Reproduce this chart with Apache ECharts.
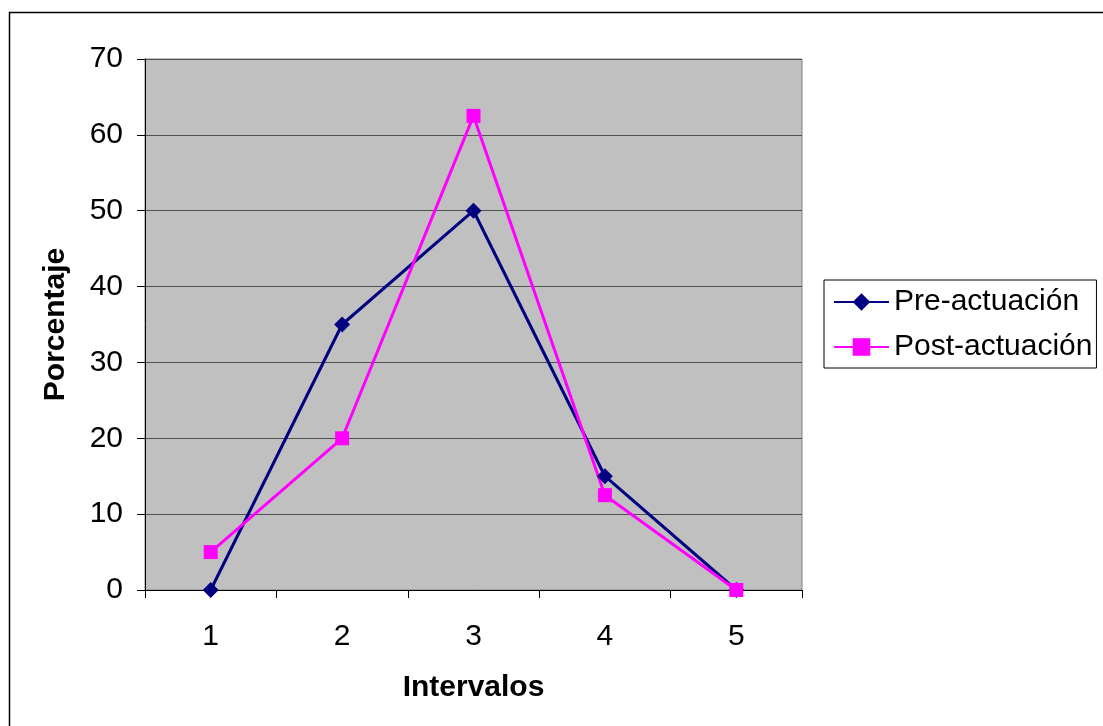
<!DOCTYPE html>
<html>
<head>
<meta charset="utf-8">
<script src="https://cdn.jsdelivr.net/npm/echarts@6/dist/echarts.min.js"></script>
<style>
html,body{margin:0;padding:0;background:#fff;}
#chart{width:1103px;height:726px;}
</style>
</head>
<body>
<div id="chart"></div>
<script>
var categories = ['1', '2', '3', '4', '5'];
var preActuacion = [0, 35, 50, 15, 0];
var postActuacion = [5, 20, 62.5, 12.5, 0];
var seriesNames = ['Pre-actuación', 'Post-actuación'];
var yMin = 0, yMax = 70, yInterval = 10;

var FONT = '"Liberation Sans", Arial, sans-serif';
var chart = echarts.init(document.getElementById('chart'));
chart.setOption({
  animation: false,
  backgroundColor: '#ffffff',
  textStyle: { fontFamily: FONT },
  graphic: [{
    type: 'rect',
    shape: { x: 9.5, y: 12.5, width: 1100, height: 720 },
    style: { fill: 'none', stroke: '#000', lineWidth: 1.5 },
    silent: true
  }],
  grid: {
    left: 145, top: 59, width: 657, height: 531,
    show: true, backgroundColor: '#C0C0C0', borderColor: '#808080', borderWidth: 1
  },
  legend: {
    orient: 'vertical',
    left: 824, top: 280,
    padding: [5, 4, 4, 9],
    borderColor: '#000', borderWidth: 1,
    itemWidth: 55, itemHeight: 22, itemGap: 11,
    textStyle: { fontFamily: FONT, fontSize: 30, color: '#000', lineHeight: 34 },
    data: seriesNames
  },
  xAxis: {
    type: 'category',
    data: categories,
    boundaryGap: true,
    name: 'Intervalos',
    nameLocation: 'middle',
    nameGap: 83,
    nameTextStyle: { fontFamily: FONT, fontSize: 30, fontWeight: 'bold', color: '#000' },
    axisLine: { lineStyle: { color: '#000', width: 1 } },
    axisTick: { show: true, length: 8, lineStyle: { color: '#000' } },
    axisLabel: { fontFamily: FONT, fontSize: 30, color: '#000', margin: 32 },
    splitLine: { show: false }
  },
  yAxis: {
    type: 'value',
    min: yMin, max: yMax, interval: yInterval,
    name: 'Porcentaje',
    nameLocation: 'middle',
    nameGap: 74,
    nameTextStyle: { fontFamily: FONT, fontSize: 30, fontWeight: 'bold', color: '#000' },
    axisLine: { show: true, lineStyle: { color: '#000', width: 1 } },
    axisTick: { show: true, length: 8, lineStyle: { color: '#000' } },
    axisLabel: { fontFamily: FONT, fontSize: 30, color: '#000', margin: 22 },
    splitLine: { show: true, lineStyle: { color: '#505050', width: 1 } }
  },
  series: [{
    name: seriesNames[0],
    type: 'line',
    data: preActuacion,
    symbol: 'diamond',
    symbolSize: 16,
    lineStyle: { color: '#000080', width: 3 },
    itemStyle: { color: '#000080' }
  }, {
    name: seriesNames[1],
    type: 'line',
    data: postActuacion,
    symbol: 'rect',
    symbolSize: 14,
    lineStyle: { color: '#FF00FF', width: 3 },
    itemStyle: { color: '#FF00FF' }
  }]
});
</script>
</body>
</html>
